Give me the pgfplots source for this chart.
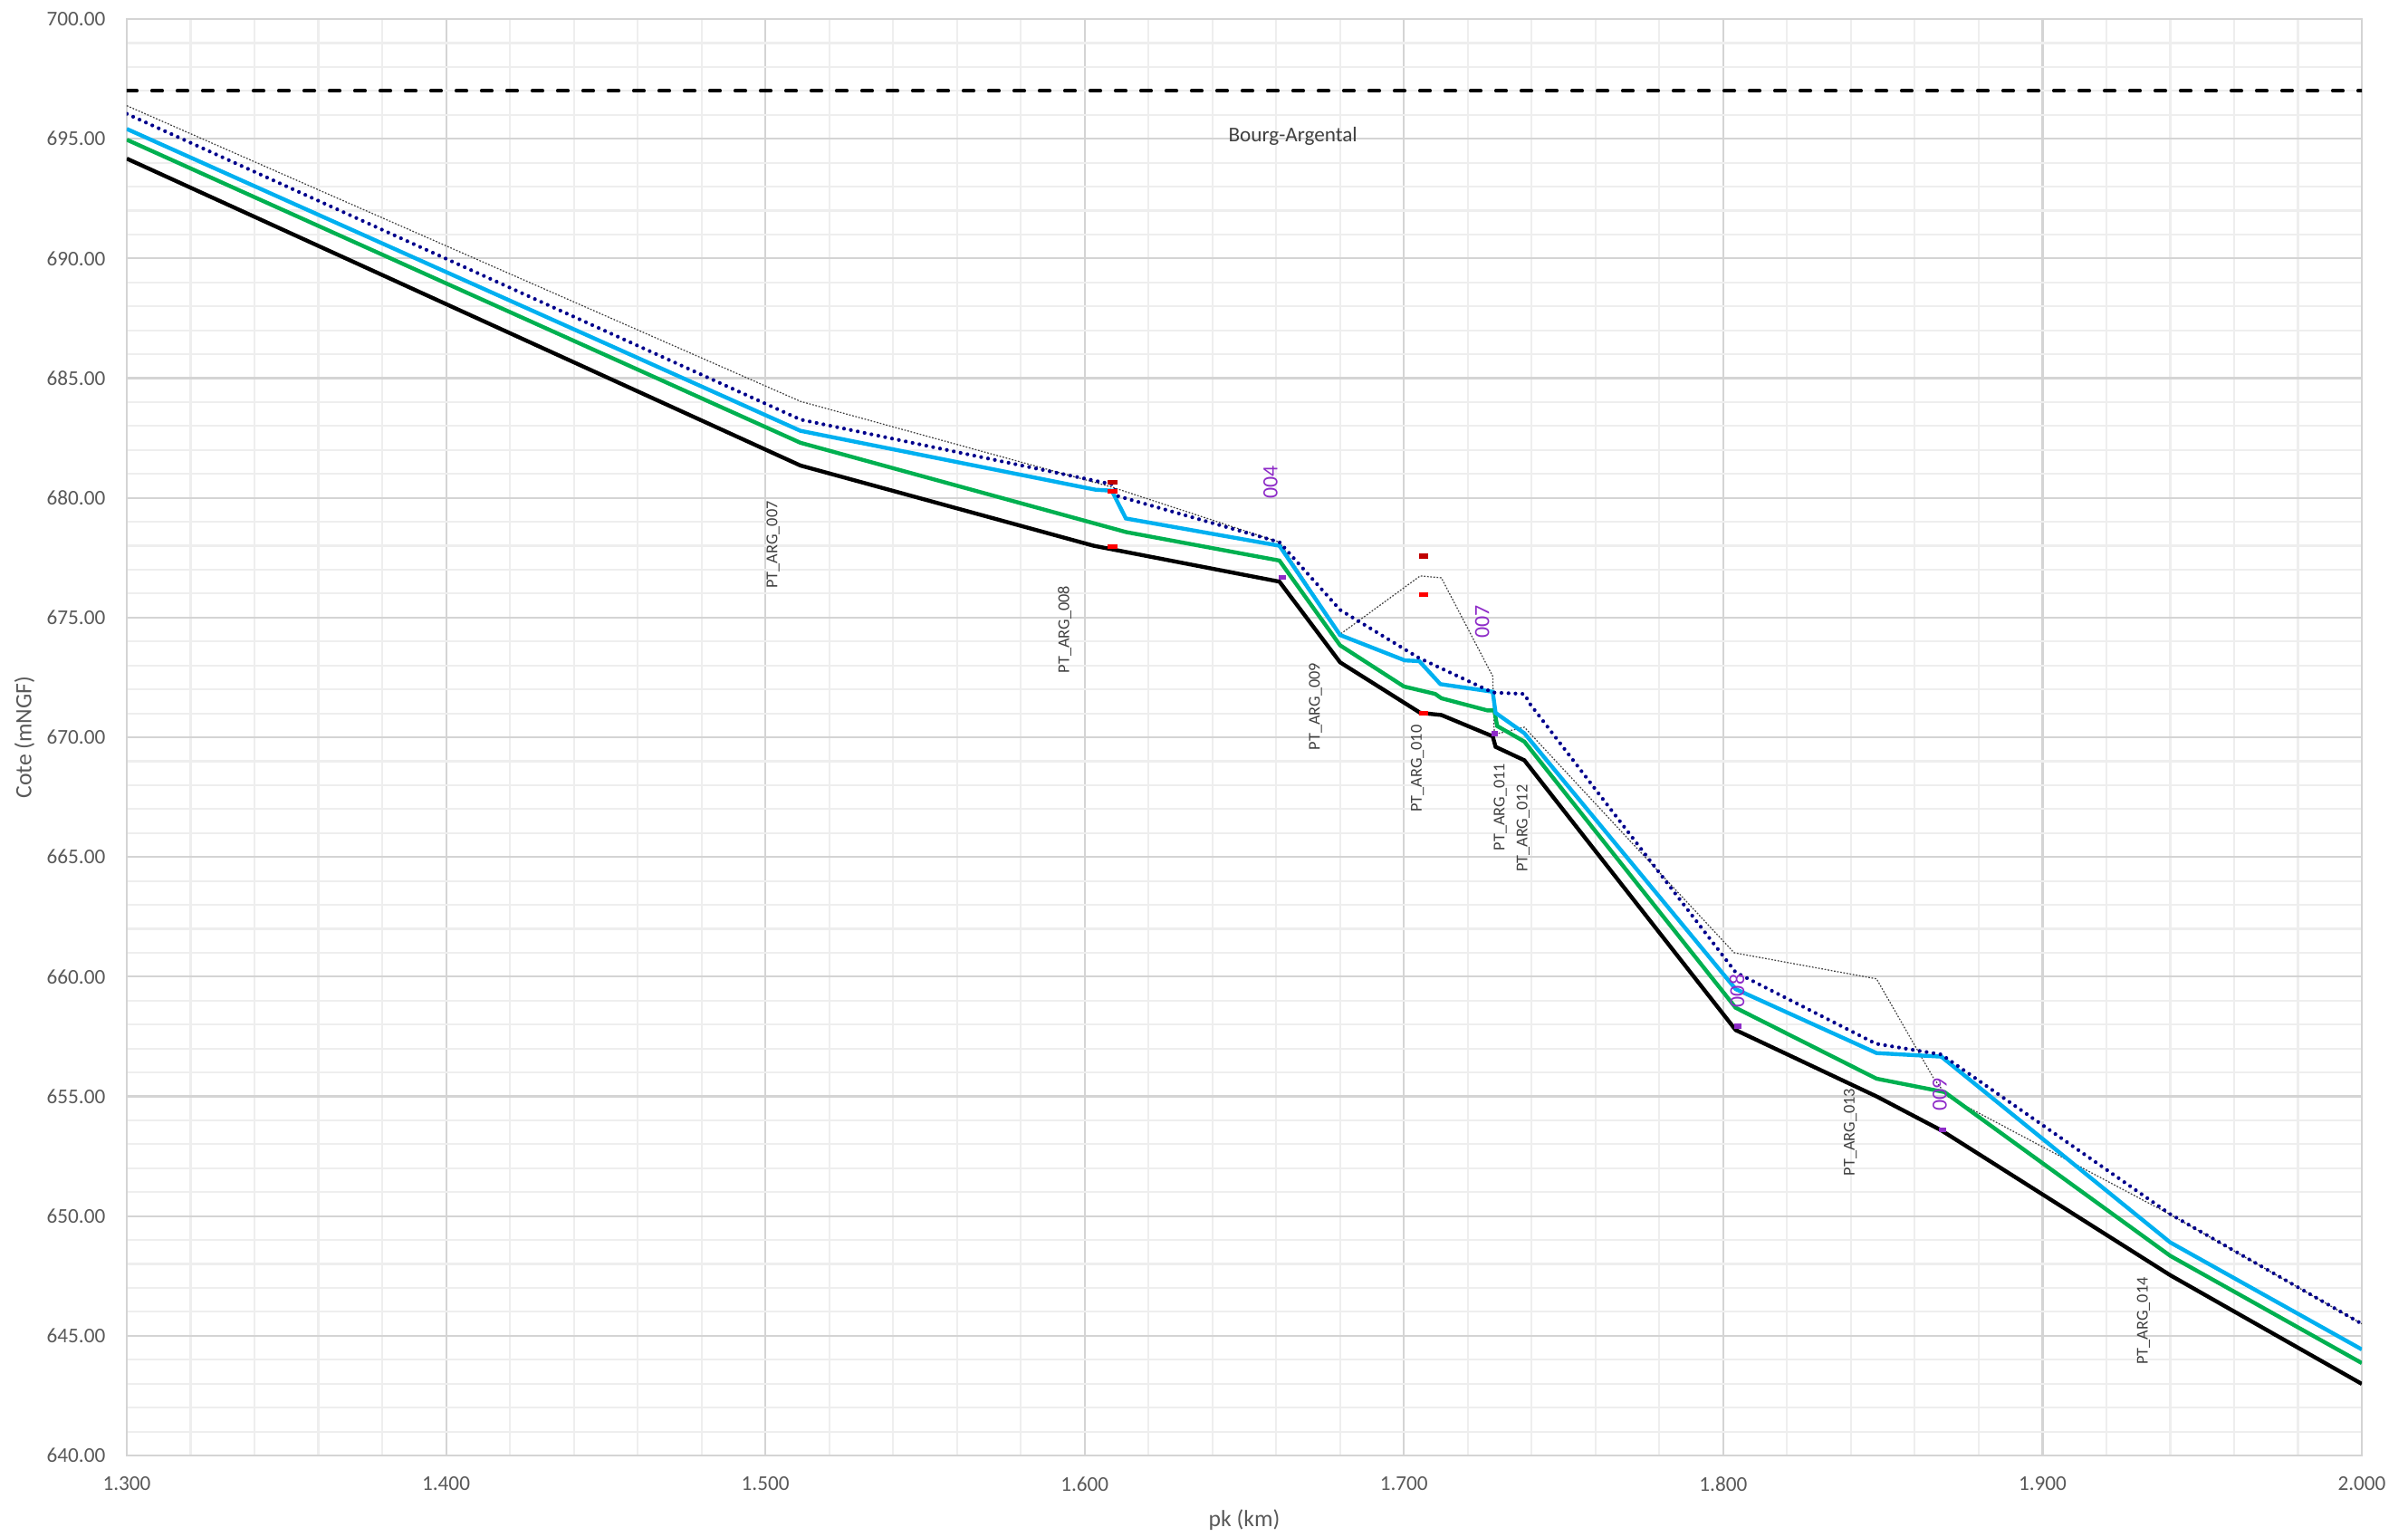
\documentclass[border=0pt]{standalone}
\usepackage{pgfplots}
\pgfplotsset{compat=1.18}
\usepackage{fontspec}
\setmainfont{Carlito}

\definecolor{ticktext}{HTML}{595959}
\definecolor{labtext}{HTML}{404040}
\definecolor{majgrid}{HTML}{D4D4D4}
\definecolor{mingrid}{HTML}{EEEEEE}
\definecolor{lineGreen}{HTML}{00B050}
\definecolor{lineCyan}{HTML}{00B0F0}
\definecolor{lineNavy}{HTML}{00008C}
\definecolor{mkDarkRed}{HTML}{C00000}
\definecolor{mkRed}{HTML}{FF0000}
\definecolor{mkPurple}{HTML}{8E2BC8}

\begin{document}
\begin{tikzpicture}
\path[use as bounding box] (0,0) rectangle (26.59,16.96);
\begin{axis}[
  at={(1.40cm,0.89cm)}, anchor=south west,
  scale only axis, width=24.68cm, height=15.86cm,
  xmin=1.3, xmax=2.0, ymin=640, ymax=700,
  xtick={1.3,1.4,1.5,1.6,1.7,1.8,1.9,2.0},
  ytick={640,645,650,655,660,665,670,675,680,685,690,695,700},
  minor x tick num=4, minor y tick num=4,
  grid=both,
  major grid style={draw=majgrid, line width=0.6pt},
  minor grid style={draw=mingrid, line width=0.6pt},
  axis line style={draw=majgrid, line width=0.7pt},
  major tick length=0pt, minor tick length=0pt,
  /pgf/number format/assume math mode=true,
  xticklabel={\pgfmathprintnumber[fixed,fixed zerofill,precision=3]{\tick}},
  yticklabel={\pgfmathprintnumber[fixed,fixed zerofill,precision=2]{\tick}},
  ticklabel style={font=\fontsize{6.6}{8}\selectfont, text=ticktext, inner sep=0pt},
  xticklabel style={anchor=north, yshift=-0.23cm},
  yticklabel style={anchor=east, xshift=-0.23cm},
  xlabel={pk (km)}, ylabel={Cote (mNGF)},
  label style={font=\fontsize{7.3}{9}\selectfont, text=ticktext},
  xlabel style={at={(axis description cs:0.5,-0.0448)}, anchor=center},
  ylabel style={at={(axis description cs:-0.0458,0.5)}, anchor=center, rotate=0},
  clip=true,
]

% reference level
\addplot[black, line width=1.2pt, line cap=round, dash pattern=on 0.11cm off 0.17cm]
  coordinates {(1.3,697.0) (2.0,697.0)};

% thin dotted profile
\addplot[black!75, line width=0.35pt, dash pattern=on 0.5pt off 0.5pt] table {
x y
1.300 696.38
1.511 684.03
1.6085 680.45
1.661 678.15
1.680 674.30
1.7051 676.74
1.7117 676.66
1.7278 672.55
1.7283 670.12
1.7377 670.42
1.8034 661.00
1.848 659.91
1.866 655.73
1.8702 655.00
1.9402 650.05
2.000 645.50
};

% bed
\addplot[black, line width=1.25pt] table {
x y
1.300 694.17
1.511 681.35
1.6028 678.00
1.661 676.50
1.680 673.13
1.7051 671.02
1.7117 670.93
1.7278 670.04
1.7287 669.60
1.7377 669.04
1.8039 657.77
1.848 655.00
1.8683 653.58
1.940 647.53
2.000 642.99
};

% green
\addplot[lineGreen, line width=1.25pt] table {
x y
1.300 694.96
1.511 682.30
1.613 678.57
1.661 677.38
1.680 673.84
1.700 672.12
1.7098 671.81
1.7117 671.63
1.7262 671.12
1.7283 671.12
1.7292 670.47
1.7377 669.82
1.8039 658.70
1.848 655.74
1.8693 655.18
1.940 648.34
2.000 643.86
};

% cyan
\addplot[lineCyan, line width=1.25pt] table {
x y
1.300 695.41
1.511 682.80
1.6034 680.34
1.6085 680.30
1.6129 679.14
1.661 678.00
1.680 674.27
1.7003 673.21
1.7048 673.18
1.7114 672.22
1.7278 671.90
1.7287 671.02
1.7377 670.17
1.8039 659.48
1.848 656.81
1.8683 656.66
1.940 648.90
2.000 644.43
};

% navy dotted
\addplot[lineNavy, line width=1.2pt, line cap=round, dash pattern=on 0pt off 2.2pt] table {
x y
1.300 696.04
1.511 683.27
1.6085 680.57
1.6105 680.07
1.661 678.15
1.680 675.32
1.7046 673.32
1.7278 671.87
1.7377 671.81
1.7396 671.37
1.8039 660.18
1.8478 657.20
1.8683 656.75
1.940 650.08
2.000 645.50
};

% markers
\addplot[mkDarkRed, only marks, mark=square*, mark size=0.045cm,
  mark options={draw=none, fill=mkDarkRed, solid, yscale=0.45}]
  coordinates {(1.6087,680.66) (1.7062,677.56)};
\addplot[mkRed, only marks, mark=square*, mark size=0.045cm,
  mark options={draw=none, fill=mkRed, solid, yscale=0.45}]
  coordinates {(1.6087,680.28) (1.6087,677.96) (1.7062,675.95) (1.7062,671.01)};
\addplot[mkPurple, only marks, mark=square*, mark size=0.032cm,
  mark options={draw=none, fill=mkPurple, solid, yscale=0.7}]
  coordinates {(1.662,676.68) (1.7284,670.14) (1.8046,657.92) (1.8686,653.60)};

% labels
\begin{scope}[every node/.style={rotate=90, inner sep=0pt, text=labtext, font=\fontsize{5.2}{6}\selectfont}]
\node at (axis cs:1.5024,678.04) {PT\_ARG\_007};
\node at (axis cs:1.5937,674.50) {PT\_ARG\_008};
\node at (axis cs:1.6723,671.28) {PT\_ARG\_009};
\node at (axis cs:1.7042,668.69) {PT\_ARG\_010};
\node at (axis cs:1.7302,667.09) {PT\_ARG\_011};
\node at (axis cs:1.7373,666.19) {PT\_ARG\_012};
\node at (axis cs:1.8398,653.50) {PT\_ARG\_013};
\node at (axis cs:1.9316,645.62) {PT\_ARG\_014};
\end{scope}
\begin{scope}[every node/.style={rotate=90, inner sep=0pt, text=mkPurple, font=\fontsize{6.8}{8}\selectfont}]
\node at (axis cs:1.6582,680.66) {004};
\node at (axis cs:1.7245,674.82) {007};
\node at (axis cs:1.8043,659.41) {008};
\node at (axis cs:1.8678,655.09) {009};
\end{scope}
\node[inner sep=0pt, text=labtext, font=\fontsize{6.6}{8}\selectfont] at (axis cs:1.6652,695.10) {Bourg-Argental};

\end{axis}
\end{tikzpicture}
\end{document}
